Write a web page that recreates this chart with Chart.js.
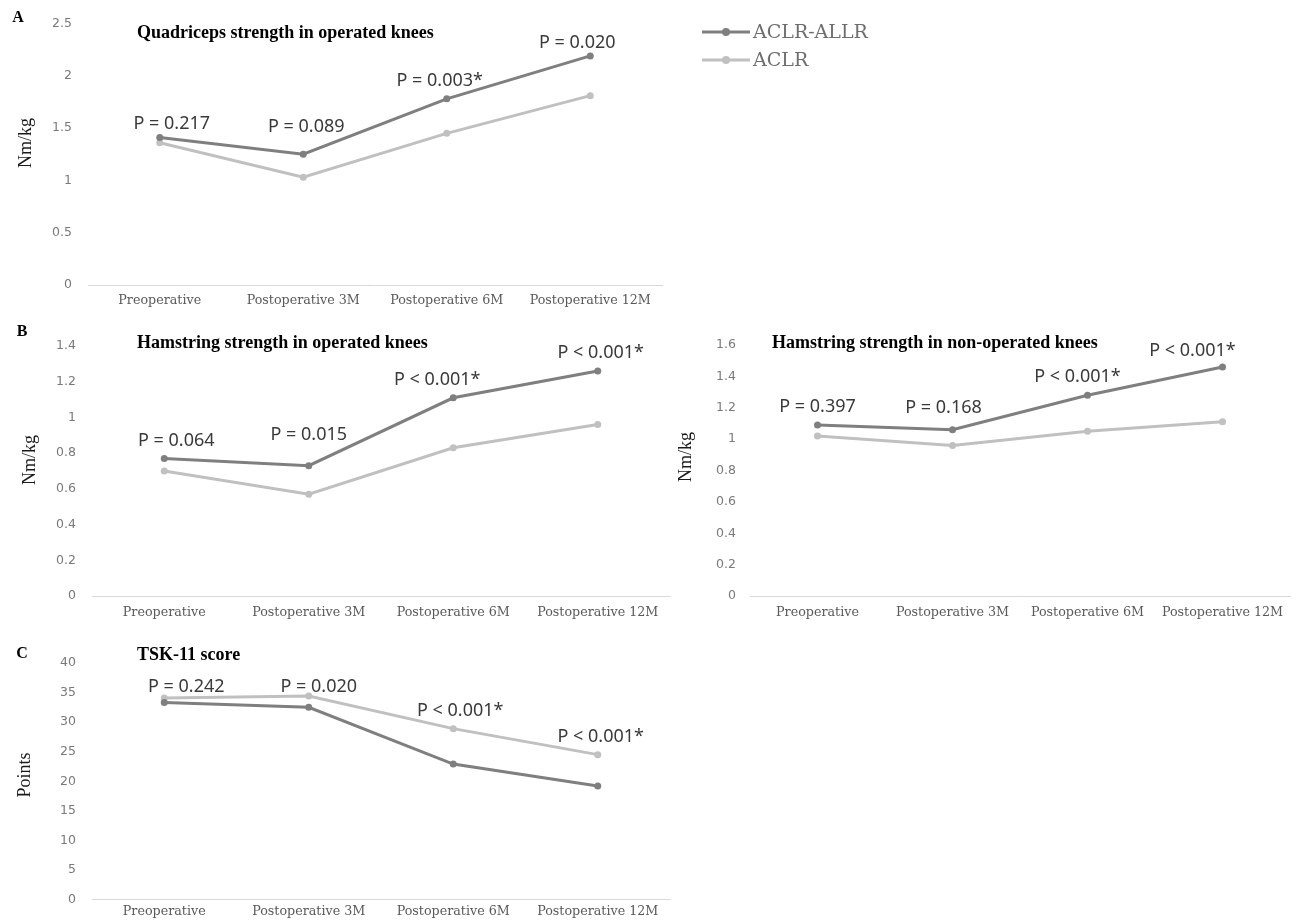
<!DOCTYPE html>
<html>
<head>
<meta charset="utf-8">
<script src="https://cdn.jsdelivr.net/npm/chart.js@4.4.0/dist/chart.umd.min.js"></script>
<style>
  body { margin: 0; background: #fff; }
  #painel { position: relative; width: 1301px; height: 923px; overflow: hidden; }
  #painel canvas { position: absolute; }
</style>
</head>
<body>
<div id="painel">
  <canvas id="graficoQuadriceps" width="900" height="315" style="left:0;top:0"></canvas>
  <canvas id="graficoIsquiosOperado" width="680" height="310" style="left:0;top:318px"></canvas>
  <canvas id="graficoIsquiosNaoOperado" width="641" height="310" style="left:660px;top:318px"></canvas>
  <canvas id="graficoTsk" width="680" height="293" style="left:0;top:630px"></canvas>
</div>
<script>
// categorias e series
const momentos = ['Preoperative', 'Postoperative 3M', 'Postoperative 6M', 'Postoperative 12M']
const grupos = ['ACLR-ALLR', 'ACLR']

const quadricepsAllr = [1.41, 1.25, 1.78, 2.19]
const quadricepsAclr = [1.36, 1.03, 1.45, 1.81]
const quadricepsP = ['P = 0.217', 'P = 0.089', 'P = 0.003*', 'P = 0.020']
const quadricepsTicks = ['0', '0.5', '1', '1.5', '2', '2.5']

const isquiosOperadoAllr = [0.77, 0.73, 1.11, 1.26]
const isquiosOperadoAclr = [0.70, 0.57, 0.83, 0.96]
const isquiosOperadoP = ['P = 0.064', 'P = 0.015', 'P < 0.001*', 'P < 0.001*']
const isquiosOperadoTicks = ['0', '0.2', '0.4', '0.6', '0.8', '1', '1.2', '1.4']

const isquiosNaoOperadoAllr = [1.09, 1.06, 1.28, 1.46]
const isquiosNaoOperadoAclr = [1.02, 0.96, 1.05, 1.11]
const isquiosNaoOperadoP = ['P = 0.397', 'P = 0.168', 'P < 0.001*', 'P < 0.001*']
const isquiosNaoOperadoTicks = ['0', '0.2', '0.4', '0.6', '0.8', '1', '1.2', '1.4', '1.6']

const tskAllr = [33.3, 32.5, 22.9, 19.2]
const tskAclr = [34.1, 34.4, 28.9, 24.5]
const tskP = ['P = 0.242', 'P = 0.020', 'P < 0.001*', 'P < 0.001*']
const tskTicks = ['0', '5', '10', '15', '20', '25', '30', '35', '40']

const corAllr = '#7f7f7f'
const corAclr = '#c0c0c0'

// textos do painel: letra, titulo, titulo do eixo, valores de P e legenda
const textosPainel = {
    id: 'textosPainel',
    afterDatasetsDraw(chart, args, opts) {
        const ctx = chart.ctx
        const x = chart.scales.x
        const y = chart.scales.y
        ctx.save()
        ctx.textBaseline = 'middle'

        if (opts.letra) {
            ctx.font = 'bold 16px "Liberation Serif"'
            ctx.fillStyle = '#000'
            ctx.textAlign = 'center'
            ctx.fillText(opts.letra, opts.letraPos[0], opts.letraPos[1])
        }

        ctx.font = 'bold 18px "Liberation Serif"'
        ctx.fillStyle = '#000'
        ctx.textAlign = 'left'
        ctx.fillText(opts.titulo, opts.tituloPos[0], opts.tituloPos[1])

        ctx.save()
        ctx.translate(opts.eixoPos[0], opts.eixoPos[1])
        ctx.rotate(-Math.PI / 2)
        ctx.textAlign = 'center'
        ctx.font = '18px "Liberation Serif"'
        ctx.fillStyle = '#1a1a1a'
        ctx.fillText(opts.eixo, 0, 0)
        ctx.restore()

        ctx.font = '18px "Noto Sans"'
        ctx.fillStyle = '#3a3a3a'
        ctx.textAlign = 'center'
        opts.valoresP.forEach((txt, i) => {
            let topo = Math.min(...chart.data.datasets.map(d => y.getPixelForValue(d.data[i])))
            let off = opts.deslocP[i]
            ctx.fillText(txt, x.getPixelForValue(i) + off[0], topo + off[1])
        })

        if (opts.legenda) {
            const lg = opts.legenda
            chart.data.datasets.forEach((d, i) => {
                let yy = lg.y + i * lg.passo
                ctx.strokeStyle = d.borderColor
                ctx.lineWidth = 3
                ctx.beginPath()
                ctx.moveTo(lg.x, yy)
                ctx.lineTo(lg.x + lg.largura, yy)
                ctx.stroke()
                ctx.fillStyle = d.borderColor
                ctx.beginPath()
                ctx.arc(lg.x + lg.largura / 2, yy, 4, 0, Math.PI * 2)
                ctx.fill()
                ctx.font = '19px "DejaVu Serif"'
                ctx.fillStyle = '#6e6e6e'
                ctx.textAlign = 'left'
                ctx.fillText(d.label, lg.x + lg.largura + 3, yy + 1)
            })
        }
        ctx.restore()
    }
}

function criarGrafico(id, allr, aclr, ticks, passo, cfg) {
    let datasets = []
    let series = [allr, aclr]
    let cores = [corAllr, corAclr]
    for (let i = 0; i < grupos.length; i++) {
        let dataset = {}
        dataset.label = grupos[i]
        dataset.data = series[i]
        dataset.borderColor = cores[i]
        dataset.backgroundColor = cores[i]
        dataset.borderWidth = 3
        dataset.pointRadius = 3.5
        dataset.pointBorderWidth = 0
        dataset.tension = 0
        datasets.push(dataset)
    }

    return new Chart(document.getElementById(id), {
        type: 'line',
        data: {
            labels: momentos,
            datasets: datasets
        },
        options: {
            responsive: false,
            animation: false,
            devicePixelRatio: 1,
            layout: {
                padding: cfg.padding
            },
            plugins: {
                legend: { display: false },
                tooltip: { enabled: false },
                textosPainel: cfg.textos
            },
            scales: {
                x: {
                    type: 'category',
                    offset: true,
                    grid: { display: false, drawTicks: false },
                    border: { display: true, color: '#d9d9d9', width: 1 },
                    ticks: {
                        padding: cfg.padX,
                        autoSkip: false,
                        maxRotation: 0,
                        color: '#595959',
                        font: { family: 'DejaVu Serif', size: 12.7 }
                    },
                    afterFit: s => { s.height = cfg.altX }
                },
                y: {
                    min: Number(ticks[0]),
                    max: Number(ticks[ticks.length - 1]),
                    grid: { display: false, drawTicks: false },
                    border: { display: false },
                    ticks: {
                        stepSize: passo,
                        padding: cfg.padY,
                        color: '#7a7a7a',
                        font: { family: 'DejaVu Sans', size: 12.5 },
                        callback: v => ticks.find(t => Math.abs(Number(t) - v) < 1e-6)
                    },
                    afterFit: s => { s.width = cfg.largY }
                }
            }
        },
        plugins: [textosPainel]
    })
}

criarGrafico('graficoQuadriceps', quadricepsAllr, quadricepsAclr, quadricepsTicks, 0.5, {
    padding: { top: 23, left: 0, right: 238, bottom: 0 },
    padX: 8, altX: 30, padY: 16, largY: 88,
    textos: {
        letra: 'A', letraPos: [18, 18],
        titulo: 'Quadriceps strength in operated knees', tituloPos: [137, 33],
        eixo: 'Nm/kg', eixoPos: [26, 143],
        valoresP: quadricepsP,
        deslocP: [[12, -14], [3, -27], [-7, -18], [-13, -13]],
        legenda: { x: 702, y: 32, passo: 28, largura: 48 }
    }
})

criarGrafico('graficoIsquiosOperado', isquiosOperadoAllr, isquiosOperadoAclr, isquiosOperadoTicks, 0.2, {
    padding: { top: 28, left: 0, right: 10, bottom: 0 },
    padX: 9, altX: 32, padY: 16, largY: 92,
    textos: {
        letra: 'B', letraPos: [22, 14],
        titulo: 'Hamstring strength in operated knees', tituloPos: [137, 25],
        eixo: 'Nm/kg', eixoPos: [30, 142],
        valoresP: isquiosOperadoP,
        deslocP: [[12, -18], [0, -31], [-16, -18], [3, -18]]
    }
})

criarGrafico('graficoIsquiosNaoOperado', isquiosNaoOperadoAllr, isquiosNaoOperadoAclr, isquiosNaoOperadoTicks, 0.2, {
    padding: { top: 27, left: 0, right: 11, bottom: 0 },
    padX: 9, altX: 32, padY: 14, largY: 90,
    textos: {
        titulo: 'Hamstring strength in non-operated knees', tituloPos: [112, 25],
        eixo: 'Nm/kg', eixoPos: [26, 139],
        valoresP: isquiosNaoOperadoP,
        deslocP: [[0, -18], [-9, -22], [-10, -18], [-30, -16]]
    }
})

criarGrafico('graficoTsk', tskAllr, tskAclr, tskTicks, 5, {
    padding: { top: 33, left: 0, right: 10, bottom: 0 },
    padX: 5, altX: 22, padY: 16, largY: 92,
    textos: {
        letra: 'C', letraPos: [22, 24],
        titulo: 'TSK-11 score', tituloPos: [137, 25],
        eixo: 'Points', eixoPos: [25, 145],
        valoresP: tskP,
        deslocP: [[22, -11], [10, -9], [7, -18], [3, -18]]
    }
})
</script>
</body>
</html>
